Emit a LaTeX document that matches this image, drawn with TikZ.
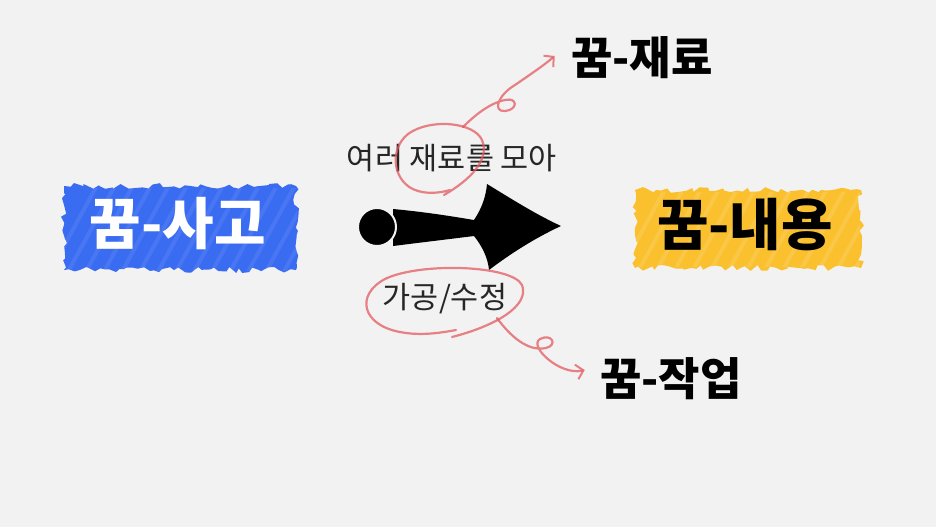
\documentclass[tikz,border=0pt]{standalone}
\usepackage{fontspec}
\newfontfamily\cjk{Noto Sans CJK KR}
\usetikzlibrary{decorations.pathmorphing,arrows.meta}
\definecolor{bgc}{HTML}{F2F2F2}
\definecolor{bluepen}{HTML}{3A6CF2}
\definecolor{yellowpen}{HTML}{FAC02E}
\definecolor{redpen}{HTML}{E35A60}
\begin{document}
\begin{tikzpicture}[x=1pt,y=-1pt,
  crayon/.style={decorate,decoration={random steps,segment length=5pt,amplitude=3pt},
     inner sep=0pt},
  bigtxt/.style={font=\cjk\bfseries\fontsize{56}{62}\selectfont},
  midtxt/.style={font=\cjk\bfseries\fontsize{45}{50}\selectfont,text=black},
  smalltxt/.style={font=\cjk\fontsize{30.5}{34}\selectfont,text=black!85},
  redline/.style={draw=redpen,line width=2.2pt,opacity=0.75,line cap=round,line join=round},
  redarrow/.style={redline,-{Straight Barb[length=7pt,width=15pt,line width=2pt]}}]
\pgfmathsetseed{7}
\fill[bgc] (0,0) rectangle (936,527);
\useasboundingbox (0,0) rectangle (936,527);

% crayon boxes
\node[crayon,fill=bluepen,minimum width=232pt,minimum height=84pt] (thinkbox) at (180,228) {};
\node[crayon,fill=yellowpen,minimum width=226pt,minimum height=78pt] (contbox) at (748,229) {};
\begin{scope}
\clip (64,188) rectangle (297,270);
\foreach \i in {0,...,14}{
  \draw[white,opacity=0.08,line width=4pt] (40+\i*18,290) -- (100+\i*18,180);
}
\end{scope}
\begin{scope}
\clip (636,192) rectangle (860,266);
\foreach \i in {0,...,14}{
  \draw[white,opacity=0.12,line width=4pt] (610+\i*18,290) -- (670+\i*18,180);
}
\end{scope}

\node[bigtxt,text=white] (think) at (178,224) {꿈-사고};
\node[bigtxt,text=black] (cont) at (745,225) {꿈-내용};
\node[midtxt] (mat) at (642,58) {꿈-재료};
\node[midtxt] (work) at (671,379) {꿈-작업};
\node[smalltxt] (gather) at (452,158) {여러 재료를 모아};
\node[smalltxt] (edit) at (445,299) {가공/수정};

% big arrow
\fill[black] (393,209) .. controls (425,212) and (450,216) .. (474,220)
   .. controls (482,208) and (486,196) .. (487,184)
   .. controls (510,198) and (535,214) .. (561,226)
   .. controls (535,238) and (510,254) .. (489,270)
   .. controls (488,258) and (482,246) .. (474,236)
   .. controls (450,239) and (425,242) .. (393,246) -- cycle;
\node[circle,fill=black,draw=bgc,line width=2pt,minimum size=38pt,inner sep=0pt] (dot) at (377,227) {};

% red circles and connectors
\draw[redline] (444,195) .. controls (470,180) and (490,160) .. (482,140)
   .. controls (474,122) and (430,118) .. (408,134)
   .. controls (388,150) and (393,184) .. (418,191)
   .. controls (428,194) and (440,193) .. (450,190);
\coordinate (c1) at (463,127);
\draw[redarrow] (c1) .. controls (475,115) and (490,103) .. (505,100)
   .. controls (518,97) and (518,110) .. (505,111)
   .. controls (492,112) and (498,95) .. (515,85)
   .. controls (528,76) and (543,66) .. ([xshift=-13pt,yshift=2pt]mat.west);

\draw[redline] (452,337) .. controls (495,326) and (530,306) .. (522,285)
   .. controls (512,265) and (420,262) .. (385,279)
   .. controls (355,295) and (362,325) .. (400,332)
   .. controls (420,336) and (440,333) .. (456,330);
\coordinate (c2) at (497,318);
\draw[redarrow] (c2) .. controls (510,336) and (528,352) .. (546,348)
   .. controls (558,345) and (552,333) .. (540,339)
   .. controls (528,346) and (560,376) .. ([xshift=-12pt,yshift=9pt]work.west);
\end{tikzpicture}
\end{document}
